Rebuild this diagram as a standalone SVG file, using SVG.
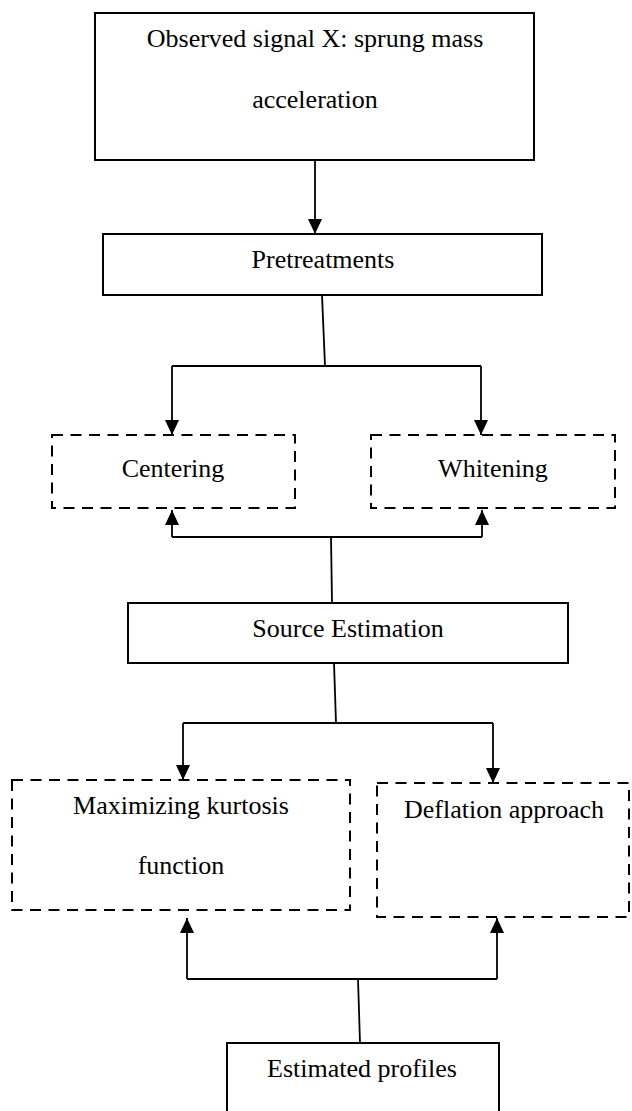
<svg xmlns="http://www.w3.org/2000/svg" width="632" height="1111" viewBox="0 0 632 1111">
<style>
.box{fill:#fff;stroke:#000;stroke-width:2}
.dbox{fill:#fff;stroke:#000;stroke-width:2;stroke-dasharray:11 7.5}
.lbl{font-family:"Liberation Serif","Times New Roman",serif;font-size:26px;fill:#000;text-anchor:middle}
.c{fill:none;stroke:#000;stroke-width:1.8}
.a{fill:none;stroke:#000;stroke-width:1.8;marker-end:url(#ah)}
</style>
<defs>
<marker id="ah" viewBox="0 0 15 14" refX="15" refY="7" markerWidth="15" markerHeight="14" markerUnits="userSpaceOnUse" orient="auto">
<path d="M0,0 L15,7 L0,14 z" fill="#000"/>
</marker>
</defs>
<rect width="632" height="1111" fill="#fff"/>
<g id="connectors">
<line class="a" x1="315" y1="160" x2="315" y2="234"/>
<line class="c" x1="322" y1="295" x2="325" y2="366"/>
<line class="c" x1="172" y1="366" x2="481" y2="366"/>
<line class="a" x1="172" y1="366" x2="172" y2="435"/>
<line class="a" x1="481" y1="366" x2="481" y2="435"/>
<line class="c" x1="172" y1="537" x2="482" y2="537"/>
<line class="a" x1="172" y1="537" x2="172" y2="510"/>
<line class="a" x1="482" y1="537" x2="482" y2="510"/>
<line class="c" x1="331" y1="537" x2="332" y2="603"/>
<line class="c" x1="334" y1="663" x2="336" y2="723"/>
<line class="c" x1="183" y1="723" x2="493" y2="723"/>
<line class="a" x1="183" y1="723" x2="183" y2="780"/>
<line class="a" x1="493" y1="723" x2="493" y2="783"/>
<line class="c" x1="187" y1="979" x2="497" y2="979"/>
<line class="a" x1="187" y1="979" x2="187" y2="918"/>
<line class="a" x1="497" y1="979" x2="497" y2="918"/>
<line class="c" x1="358" y1="979" x2="360" y2="1043"/>
</g>
<g id="observed">
<rect class="box" x="95" y="13" width="439" height="147"/>
<text class="lbl" x="315" y="47">Observed signal X: sprung mass</text>
<text class="lbl" x="315" y="108">acceleration</text>
</g>
<g id="pretreatments">
<rect class="box" x="103" y="234" width="439" height="61"/>
<text class="lbl" x="323" y="268">Pretreatments</text>
</g>
<g id="centering">
<rect class="dbox" x="52" y="435" width="243" height="73"/>
<text class="lbl" x="173" y="477">Centering</text>
</g>
<g id="whitening">
<rect class="dbox" x="371" y="435" width="244" height="73"/>
<text class="lbl" x="493" y="477">Whitening</text>
</g>
<g id="source">
<rect class="box" x="128" y="603" width="440" height="60"/>
<text class="lbl" x="348" y="637">Source Estimation</text>
</g>
<g id="kurtosis">
<rect class="dbox" x="12" y="780" width="338" height="130"/>
<text class="lbl" x="181" y="814">Maximizing kurtosis</text>
<text class="lbl" x="181" y="874">function</text>
</g>
<g id="deflation">
<rect class="dbox" x="377" y="783" width="252" height="134"/>
<text class="lbl" x="504" y="818">Deflation approach</text>
</g>
<g id="profiles">
<rect class="box" x="227" y="1043" width="272" height="90"/>
<text class="lbl" x="362" y="1077">Estimated profiles</text>
</g>
</svg>
